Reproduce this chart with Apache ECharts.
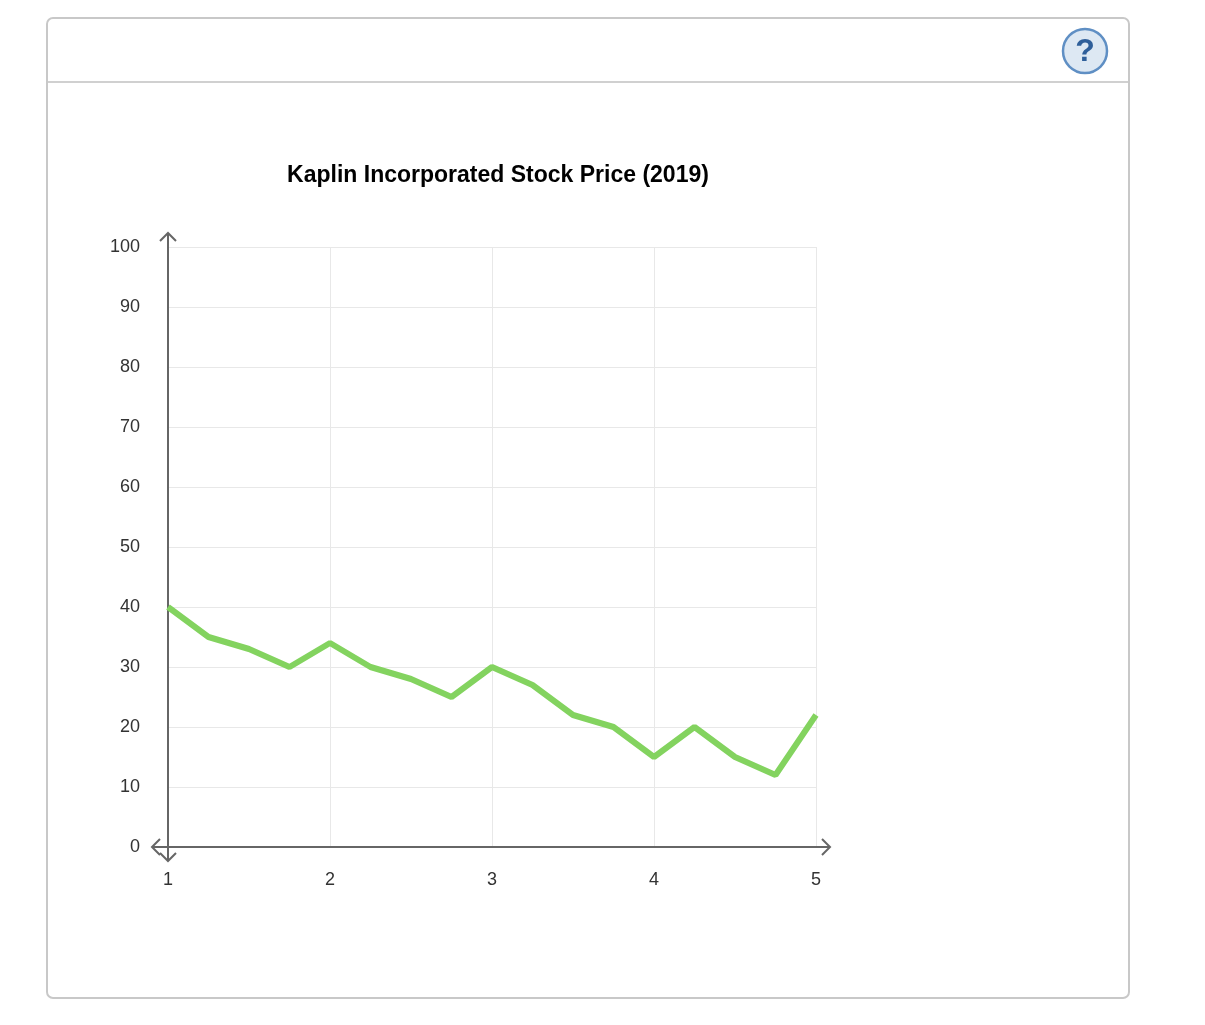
<!DOCTYPE html>
<html>
<head>
<meta charset="utf-8">
<script src="https://cdn.jsdelivr.net/npm/echarts@6/dist/echarts.min.js"></script>
<style>html,body{margin:0;padding:0;background:#fff}#main{width:1205px;height:1025px}</style>
</head>
<body>
<div id="main"></div>
<script>
var chartTitle = 'Kaplin Incorporated Stock Price (2019)';
var xValues = [1, 1.25, 1.5, 1.75, 2, 2.25, 2.5, 2.75, 3, 3.25, 3.5, 3.75, 4, 4.25, 4.5, 4.75, 5];
var prices = [40, 35, 33, 30, 34, 30, 28, 25, 30, 27, 22, 20, 15, 20, 15, 12, 22];

var myChart = echarts.init(document.getElementById('main'));
var points = xValues.map(function (x, i) { return [x, prices[i]]; });
var font = 'Arial, "Liberation Sans", sans-serif';

var option = {
    animation: false,
    title: {
        text: chartTitle,
        left: 493,
        textAlign: 'center',
        top: 159,
        textStyle: {fontFamily: font, fontSize: 23, fontWeight: 'bold', color: '#000'}
    },
    grid: {left: 168, right: 389, top: 247, bottom: 178},
    xAxis: {
        type: 'value', min: 1, max: 5, interval: 1,
        axisLine: {show: false},
        axisTick: {show: false},
        axisLabel: {fontFamily: font, fontSize: 18, color: '#333', margin: 24},
        splitLine: {lineStyle: {color: '#e8e8e8'}}
    },
    yAxis: {
        type: 'value', min: 0, max: 100, interval: 10,
        axisLine: {show: false},
        axisTick: {show: false},
        axisLabel: {fontFamily: font, fontSize: 18, color: '#333', margin: 28},
        splitLine: {lineStyle: {color: '#e8e8e8'}}
    },
    series: [{
        type: 'line',
        data: points,
        symbol: 'none',
        lineStyle: {color: '#83d35f', width: 6}
    }]
};
myChart.setOption(option);

// decorations: panel, help icon, axis lines with open arrows
var o = myChart.convertToPixel({gridIndex: 0}, [1, 0]);
var yTop = myChart.convertToPixel({gridIndex: 0}, [1, 100]);
var xEnd = myChart.convertToPixel({gridIndex: 0}, [5, 0]);
var ax = {stroke: '#666', lineWidth: 2, fill: null};
myChart.setOption({
    graphic: [
        {type: 'rect', shape: {x: 47, y: 18, width: 1082, height: 980, r: 6}, style: {fill: null, stroke: '#c8c8c8', lineWidth: 2}},
        {type: 'line', shape: {x1: 48, y1: 82, x2: 1128, y2: 82}, style: {stroke: '#d0d0d0', lineWidth: 2}},
        {type: 'circle', shape: {cx: 1085, cy: 51, r: 22}, style: {fill: '#dde8f3', stroke: '#5f8fc4', lineWidth: 2.5}},
        {type: 'text', x: 1085, y: 52, style: {text: '?', fontSize: 32, fontWeight: 'bold', fontFamily: font, fill: '#2f5f9a', align: 'center', verticalAlign: 'middle'}},
        {type: 'line', shape: {x1: o[0], y1: yTop[1] - 14, x2: o[0], y2: o[1] + 14}, style: ax},
        {type: 'line', shape: {x1: o[0] - 16, y1: o[1], x2: xEnd[0] + 14, y2: o[1]}, style: ax},
        {type: 'polyline', shape: {points: [[o[0] - 8, yTop[1] - 6], [o[0], yTop[1] - 14], [o[0] + 8, yTop[1] - 6]]}, style: ax},
        {type: 'polyline', shape: {points: [[o[0] - 8, o[1] + 6], [o[0], o[1] + 14], [o[0] + 8, o[1] + 6]]}, style: ax},
        {type: 'polyline', shape: {points: [[o[0] - 8, o[1] - 8], [o[0] - 16, o[1]], [o[0] - 8, o[1] + 8]]}, style: ax},
        {type: 'polyline', shape: {points: [[xEnd[0] + 6, o[1] - 8], [xEnd[0] + 14, o[1]], [xEnd[0] + 6, o[1] + 8]]}, style: ax}
    ]
});
</script>
</body>
</html>
